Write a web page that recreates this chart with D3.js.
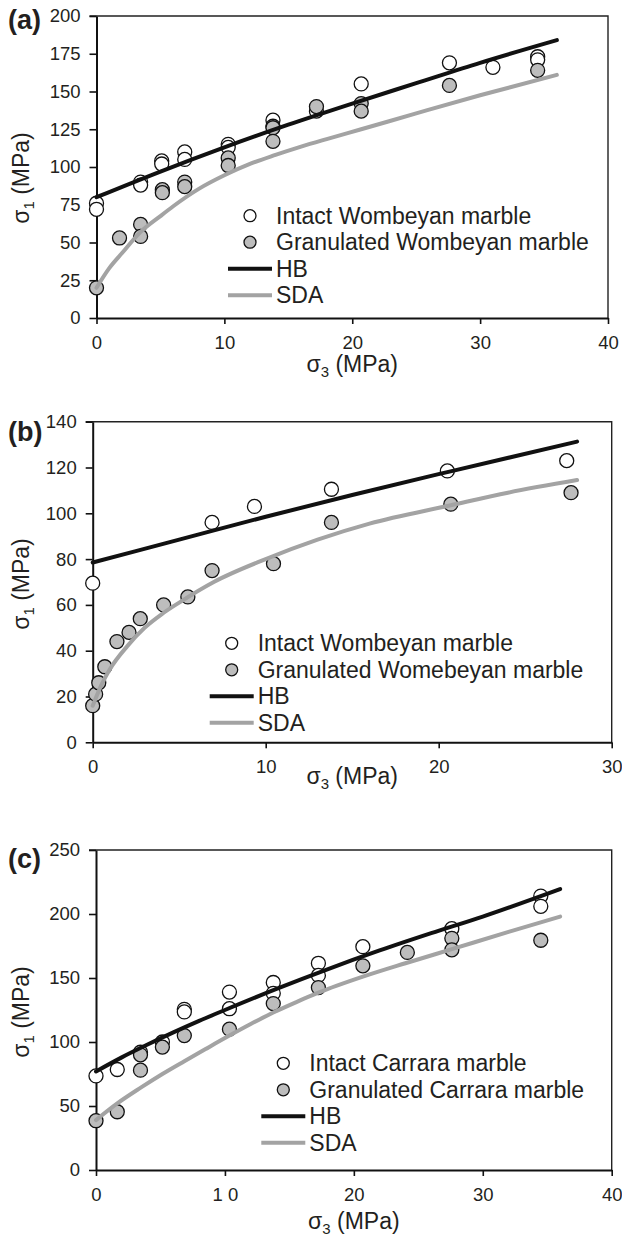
<!DOCTYPE html>
<html>
<head>
<meta charset="utf-8">
<script src="https://cdn.jsdelivr.net/npm/d3@7"></script>
<style>
body { margin: 0; background: #fff; }
svg { display: block; font-family: "Liberation Sans", Arial, sans-serif; }
</style>
</head>
<body>
<svg id="chart" width="622" height="1238"></svg>
<script>
// panel (a) - Wombeyan marble
var aIntact = [[0,76],[0,72],[3.45,90],[3.45,88],[5.1,104],[5.1,102],[6.9,110],[6.9,105],[10.3,115],[10.3,113],
    [13.8,131],[13.8,127],[17.2,137],[20.7,155],[27.6,169],[31.0,166],[34.5,173],[34.5,171]];
var aGranulated = [[0,20],[1.8,53],[3.45,62],[3.45,54],[5.15,85],[5.15,83],[6.9,90],[6.9,87],[10.3,106],[10.3,101],
    [13.8,126],[13.8,117],[17.2,140],[20.7,142],[20.7,137],[27.6,154],[34.5,164]];
var aHB = [[0,80],[5,97],[10,113],[15,128],[20,142],[25,155.5],[30,169],[36,184]];
var aSDA = [[0,20],[1,33],[2,43],[3.45,57],[5,67.5],[6,74],[8,85.5],[10,94.5],[12,102],[14,108],[16,113.5],
    [18,118.5],[20.7,125],[25,135.5],[30,147.5],[36,161]];
var aLegend = ["Intact Wombeyan marble", "Granulated Wombeyan marble", "HB", "SDA"];
var aXTicks = [0, 10, 20, 30, 40];
var aYTicks = [0, 25, 50, 75, 100, 125, 150, 175, 200];

// panel (b) - Wombeyan marble, low confinement
var bIntact = [[0,69.5],[6.9,96],[9.35,103],[13.8,110.5],[20.5,118.5],[27.4,123]];
var bGranulated = [[0,16],[0.17,21],[0.35,26],[0.7,33],[1.4,44],[2.1,48],[2.75,54],[4.1,60],[5.5,63.5],[6.9,75],
    [10.45,78],[13.8,96],[20.7,104],[27.65,109]];
var bHB = [[0,78.5],[5,88.5],[10,98.5],[15,108],[20.5,118],[28,131.3]];
var bSDA = [[0,16],[0.5,25],[1,32],[2,42],[3,50],[4,56],[5,61],[7,70],[10,80],[13,88.5],[16,95.5],[20.7,103.5],[24,109],[28,114.5]];
var bLegend = ["Intact Wombeyan marble", "Granulated Womebeyan marble", "HB", "SDA"];
var bXTicks = [0, 10, 20, 30];
var bYTicks = [0, 20, 40, 60, 80, 100, 120, 140];

// panel (c) - Carrara marble
var cIntact = [[0,73.5],[1.65,78.5],[3.45,92],[5.15,100],[6.85,125.5],[6.85,123.5],[10.35,139],[10.35,126],
    [13.75,146.5],[13.75,138],[17.25,161.5],[17.25,152],[20.7,174.5],[27.6,188.5],[34.5,214],[34.5,206]];
var cGranulated = [[0,38.5],[1.65,45.5],[3.45,90],[3.45,78],[5.15,96],[6.85,105],[10.35,110],[13.75,130],
    [17.25,142.5],[20.7,159.5],[24.15,170],[27.6,181],[27.6,172],[34.5,179.5]];
var cHB = [[0,77],[2,88],[4,98],[6,107.5],[8,116.5],[10,125],[14,141.5],[18,157],[22,171.5],[26,185],[30,198],[36,219.5]];
var cSDA = [[0,39],[1.65,52],[3.5,64.5],[5.15,75],[6.85,85],[8.5,94.5],[10.35,105],[12,114],[13.75,123],[15.5,131],
    [17.25,138.5],[20.7,151],[24,161.5],[27.6,172.5],[32,186],[36,198]];
var cLegend = ["Intact Carrara marble", "Granulated Carrara marble", "HB", "SDA"];
var cXTicks = [0, 10, 20, 30, 40];
var cYTicks = [0, 50, 100, 150, 200, 250];

var panels = [
    { label: "(a)", intact: aIntact, gran: aGranulated, hb: aHB, sda: aSDA, legend: aLegend,
      xTicks: aXTicks, yTicks: aYTicks, left: 96.5, right: 608, top: 16, bottom: 318,
      legX: 250, legY: 215.7, labelY: 29, yTitleY: 178, xTitleY: 372 },
    { label: "(b)", intact: bIntact, gran: bGranulated, hb: bHB, sda: bSDA, legend: bLegend,
      xTicks: bXTicks, yTicks: bYTicks, left: 92.7, right: 611.7, top: 421.7, bottom: 742.3,
      legX: 231.7, legY: 643.3, labelY: 441, yTitleY: 584, xTitleY: 784 },
    { label: "(c)", intact: cIntact, gran: cGranulated, hb: cHB, sda: cSDA, legend: cLegend,
      xTicks: cXTicks, yTicks: cYTicks, left: 96, right: 611.7, top: 850, bottom: 1170,
      legX: 283.3, legY: 1063.3, labelY: 868, yTitleY: 1012, xTitleY: 1229 }
];

var svg = d3.select("#chart");
var textColor = "#231f20";

panels.forEach(function (p) {
    var xMax = d3.max(p.xTicks), yMax = d3.max(p.yTicks);
    var x = d3.scaleLinear().domain([0, xMax]).range([p.left, p.right]);
    var y = d3.scaleLinear().domain([0, yMax]).range([p.bottom, p.top]);
    var g = svg.append("g");

    // top and right frame
    g.append("path")
        .attr("d", "M" + (p.left - 7) + "," + p.top + "H" + p.right + "V" + p.bottom)
        .attr("fill", "none").attr("stroke", "#222").attr("stroke-width", 1.4);

    var yAxis = g.append("g")
        .attr("transform", "translate(" + p.left + ",0)")
        .call(d3.axisLeft(y).tickValues(p.yTicks).tickSize(7).tickSizeOuter(0).tickPadding(9));
    var xAxis = g.append("g")
        .attr("transform", "translate(0," + p.bottom + ")")
        .call(d3.axisBottom(x).tickValues(p.xTicks).tickSize(6).tickSizeOuter(0).tickPadding(12)
            .tickFormat(function (d) { return (p.label == "(c)" && d == 10) ? "1 0" : d; }));
    [yAxis, xAxis].forEach(function (ax) {
        ax.select(".domain").attr("stroke", "#111").attr("stroke-width", 2);
        ax.selectAll(".tick line").attr("stroke", "#111").attr("stroke-width", 1.6);
        ax.selectAll(".tick text").attr("fill", textColor).attr("font-size", "18.5px")
            .attr("font-family", "'Liberation Sans', Arial, sans-serif");
    });

    var line = d3.line()
        .x(function (d) { return x(d[0]); })
        .y(function (d) { return y(d[1]); })
        .curve(d3.curveMonotoneX);

    // points
    g.selectAll(".intact").data(p.intact).enter().append("circle")
        .attr("cx", function (d) { return x(d[0]); })
        .attr("cy", function (d) { return y(d[1]); })
        .attr("r", 7).attr("fill", "#fff").attr("stroke", "#111").attr("stroke-width", 1.3);
    g.selectAll(".gran").data(p.gran).enter().append("circle")
        .attr("cx", function (d) { return x(d[0]); })
        .attr("cy", function (d) { return y(d[1]); })
        .attr("r", 7).attr("fill", "#bdbdbd").attr("stroke", "#111").attr("stroke-width", 1.3);

    // fitted curves
    g.append("path").attr("d", line(p.sda))
        .attr("fill", "none").attr("stroke", "#a3a3a3").attr("stroke-width", 4).attr("stroke-linecap", "round");
    g.append("path").attr("d", line(p.hb))
        .attr("fill", "none").attr("stroke", "#111").attr("stroke-width", 4).attr("stroke-linecap", "round");

    // legend
    var rowH = 26.5;
    p.legend.forEach(function (name, i) {
        var cy = p.legY + i * rowH;
        if (i == 0 || i == 1) {
            g.append("circle").attr("cx", p.legX).attr("cy", cy).attr("r", 6)
                .attr("fill", i == 0 ? "#fff" : "#bdbdbd").attr("stroke", "#111").attr("stroke-width", 1.3);
        } else {
            g.append("line").attr("x1", p.legX - 22).attr("x2", p.legX + 22).attr("y1", cy).attr("y2", cy)
                .attr("stroke", i == 2 ? "#111" : "#a3a3a3").attr("stroke-width", 4);
        }
        g.append("text").attr("x", p.legX + 26).attr("y", cy + 8)
            .attr("font-size", "23px").attr("fill", textColor).text(name);
    });

    // panel label
    g.append("text").attr("x", 8).attr("y", p.labelY)
        .attr("font-size", "27px").attr("font-weight", "bold").attr("fill", textColor).text(p.label);

    // axis titles
    var yt = g.append("text")
        .attr("transform", "translate(29," + p.yTitleY + ") rotate(-90)")
        .attr("text-anchor", "middle").attr("font-size", "23px").attr("fill", textColor);
    yt.append("tspan").text("σ");
    yt.append("tspan").attr("font-size", "15px").attr("dy", 5).text("1");
    yt.append("tspan").attr("dy", -5).text(" (MPa)");

    var xt = g.append("text")
        .attr("x", (p.left + p.right) / 2).attr("y", p.xTitleY)
        .attr("text-anchor", "middle").attr("font-size", "23px").attr("fill", textColor);
    xt.append("tspan").text("σ");
    xt.append("tspan").attr("font-size", "15px").attr("dy", 5).text("3");
    xt.append("tspan").attr("dy", -5).text(" (MPa)");
});
</script>
</body>
</html>
